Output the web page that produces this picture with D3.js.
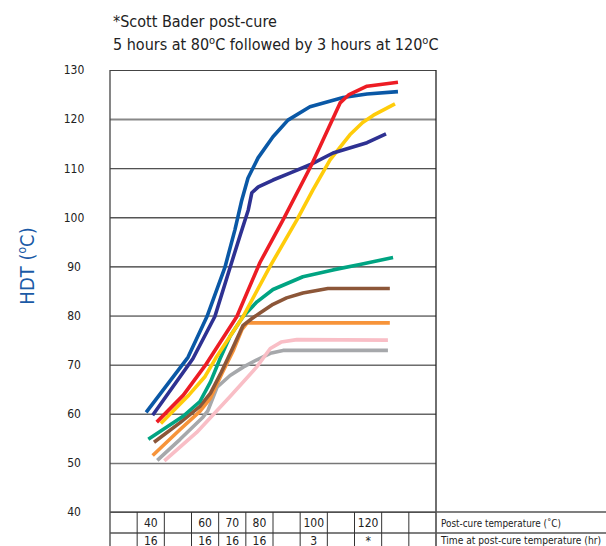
<!DOCTYPE html>
<html><head><meta charset="utf-8">
<script src="https://cdn.jsdelivr.net/npm/d3@7"></script>
<style>body{margin:0;background:#fff} svg{display:block}</style>
</head><body>
<script>
// ---------- data ----------
const titleLine1 = "*Scott Bader post-cure";
const titleLine2 = ["5 hours at 80", "o", "C followed by 3 hours at 120", "o", "C"];
const yTitle = ["HDT (", "o", "C)"];
const yTicks = [40, 50, 60, 70, 80, 90, 100, 110, 120, 130];
const tableTemps = [30, 40, 50, 60, 70, 80, 90, 100, 110, 120, 130, 140];
const tempRow = ["", "40", "", "60", "70", "80", "", "100", "", "120", "", ""];
const timeRow = ["", "16", "", "16", "16", "16", "", "3", "", "*", "", ""];
const rowLabels = ["Post-cure temperature (\u02DAC)", "Time at post-cure temperature (hr)"];

// each series: post-cure temperature (x) and HDT (y)
const grayX = [42.4, 50.8, 59.2, 61.0, 64.4, 69.2, 74.0, 79.1, 84.0, 88.7, 127.3];
const grayY = [50.5, 54.8, 59.3, 60.6, 65.4, 67.8, 69.5, 71.0, 72.3, 72.9, 72.9];
const pinkX = [45.0, 56.9, 69.2, 79.1, 84.0, 88.0, 93.8, 127.3];
const pinkY = [50.4, 56.2, 63.5, 69.6, 73.3, 74.6, 75.1, 75.0];
const orangeX = [40.7, 50.8, 58.1, 62.0, 66.2, 70.5, 73.6, 75.5, 128.0];
const orangeY = [51.5, 56.8, 60.5, 63.2, 68.2, 73.0, 77.2, 78.5, 78.5];
const brownX = [41.2, 50.8, 58.1, 62.0, 66.0, 70.0, 74.0, 77.5, 80.2, 85.0, 90.0, 96.0, 105.2, 128.0];
const brownY = [54.2, 58.2, 61.5, 64.2, 68.5, 73.2, 78.0, 79.5, 80.5, 82.3, 83.6, 84.6, 85.5, 85.5];
const greenX = [39.1, 51.9, 58.1, 62.0, 65.5, 69.2, 74.0, 79.1, 85.0, 96.0, 107.1, 117.0, 129.2];
const greenY = [54.8, 59.5, 62.5, 66.5, 71.2, 75.8, 79.8, 82.8, 85.3, 87.9, 89.3, 90.4, 91.8];
const yellowX = [43.7, 54.0, 60.0, 64.0, 74.0, 83.9, 93.8, 99.7, 106.0, 113.3, 118.0, 122.0, 129.9];
const yellowY = [58.0, 63.8, 67.6, 71.4, 79.8, 90.0, 99.5, 105.6, 111.7, 116.8, 119.3, 120.8, 123.1];
const navyX = [40.7, 55.5, 63.6, 69.2, 73.0, 75.9, 77.2, 79.6, 85.0, 91.2, 98.6, 107.1, 119.6, 126.6];
const navyY = [59.7, 71.2, 79.8, 89.8, 96.5, 101.5, 105.0, 106.2, 107.6, 109.0, 110.7, 113.1, 115.2, 117.0];
const blueX = [38.3, 53.7, 60.7, 67.3, 71.0, 73.5, 75.8, 79.5, 85.0, 90.5, 98.6, 110.8, 119.6, 131.0];
const blueY = [60.3, 71.5, 79.8, 89.8, 97.5, 103.5, 108.0, 112.1, 116.4, 119.8, 122.5, 124.4, 125.1, 125.6];
const redX = [42.2, 52.0, 60.0, 71.7, 80.2, 88.7, 99.2, 109.7, 113.0, 119.6, 131.0];
const redY = [58.3, 63.8, 69.8, 79.8, 90.8, 99.5, 110.7, 123.3, 125.0, 126.7, 127.5];

const seriesColors = ["#a6a8ab", "#f9bec6", "#f7943a", "#8c5638", "#00a482", "#ffcc0a", "#2e3192", "#0a58a6", "#ed1c24"];
const seriesX = [grayX, pinkX, orangeX, brownX, greenX, yellowX, navyX, blueX, redX];
const seriesY = [grayY, pinkY, orangeY, brownY, greenY, yellowY, navyY, blueY, redY];

// ---------- drawing ----------
const W = 606, H = 546;
const FONT = "'Liberation Sans Narrow','DejaVu Sans Condensed','Roboto Condensed',Arial,sans-serif";
const svg = d3.select("body").append("svg").attr("width", W).attr("height", H)
  .style("font-family", FONT);

const x = d3.scaleLinear().domain([25, 145]).range([110, 436]);
const y = d3.scaleLinear().domain([40, 130]).range([512, 70]);

// titles
svg.append("text").attr("x", 113).attr("y", 27).attr("font-size", 16).attr("fill", "#222")
  .text(titleLine1);
const t2 = svg.append("text").attr("x", 113).attr("y", 50).attr("font-size", 16).attr("fill", "#222");
titleLine2.forEach((s, i) => {
  const sp = t2.append("tspan").text(s);
  if (i % 2 === 1) sp.attr("font-size", 11).attr("dy", -6);
  else if (i > 0) sp.attr("dy", 6);
});

// y axis title
const yt = svg.append("text").attr("transform", "translate(34,266) rotate(-90)")
  .attr("text-anchor", "middle").attr("font-size", 20).attr("fill", "#1a5aa6");
yTitle.forEach((s, i) => {
  const sp = yt.append("tspan").text(s);
  if (i === 1) sp.attr("font-size", 12).attr("dy", -8);
  else if (i === 2) sp.attr("dy", 8);
});

// gridlines + tick labels
const gridStyle = {130: ["#444", 1.2], 120: ["#888", 2], 110: ["#222", 1], 100: ["#555", 1.5],
  90: ["#333", 1.2], 80: ["#222", 1], 70: ["#222", 1], 60: ["#666", 1.5], 50: ["#777", 1.5], 40: ["#444", 1.2]};
const yAxis = d3.axisLeft(y).tickValues(yTicks).tickSize(2).tickPadding(24).tickFormat(d3.format("d"));
const ga = svg.append("g").attr("transform", "translate(110,0)").call(yAxis);
ga.select(".domain").remove();
ga.selectAll(".tick line").attr("x2", 326)
  .attr("stroke", d => gridStyle[d][0]).attr("stroke-width", d => gridStyle[d][1]);
ga.selectAll(".tick text").attr("font-size", 12).attr("fill", "#222")
  .attr("text-anchor", "middle").attr("x", -36).attr("font-family", FONT);

// frame
svg.append("line").attr("x1", 110).attr("x2", 110).attr("y1", 70).attr("y2", H).attr("stroke", "#444").attr("stroke-width", 1.3);
svg.append("line").attr("x1", 436).attr("x2", 436).attr("y1", 70).attr("y2", H).attr("stroke", "#222").attr("stroke-width", 1.3);

// table
const rowY = [512, 533];
rowY.forEach(ry => {
  svg.append("line").attr("x1", 110).attr("x2", W).attr("y1", ry).attr("y2", ry)
    .attr("stroke", "#555").attr("stroke-width", 1.3);
});
const bounds = tableTemps.map(t => t - 5).concat([tableTemps[tableTemps.length - 1] + 5]);
svg.append("g").selectAll("line").data(bounds.slice(1, -1)).join("line")
  .attr("x1", d => x(d)).attr("x2", d => x(d)).attr("y1", 512).attr("y2", H)
  .attr("stroke", "#333").attr("stroke-width", 1);
const textBase = [527, 544.5];
[tempRow, timeRow].forEach((row, r) => {
  svg.append("g").selectAll("text").data(tableTemps).join("text")
    .attr("x", d => x(d)).attr("y", textBase[r]).attr("text-anchor", "middle")
    .attr("font-size", 12).attr("fill", "#222").text((d, i) => row[i]);
  svg.append("text").attr("x", 441).attr("y", textBase[r] - 0.5).attr("font-size", 10.5)
    .attr("fill", "#222").attr("textLength", r === 0 ? 120 : 160).attr("lengthAdjust", "spacingAndGlyphs")
    .text(rowLabels[r]);
});

// series lines
const line = d3.line().x(d => x(d[0])).y(d => y(d[1])).curve(d3.curveLinear);
seriesX.forEach((xs, i) => {
  const pts = xs.map((v, j) => [v, seriesY[i][j]]);
  svg.append("path").attr("d", line(pts)).attr("fill", "none")
    .attr("stroke", seriesColors[i]).attr("stroke-width", 3.6).attr("stroke-linejoin", "round");
});
</script>
</body></html>
